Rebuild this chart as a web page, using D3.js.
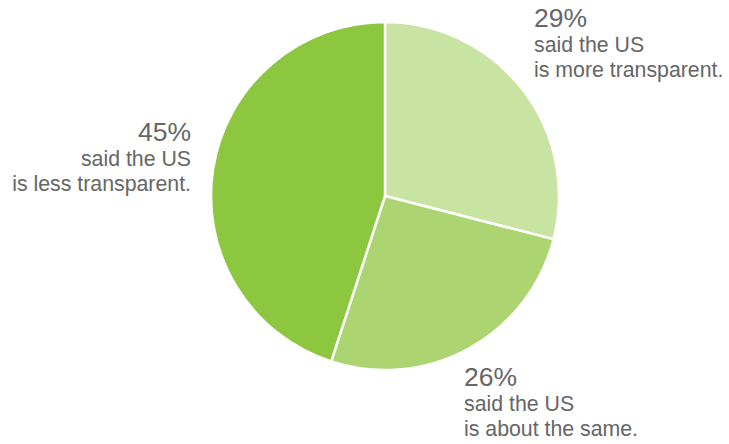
<!DOCTYPE html>
<html>
<head>
<meta charset="utf-8">
<script src="https://cdn.jsdelivr.net/npm/d3@7"></script>
<style>
  body { margin: 0; background: #fff; }
  text { font-family: "Liberation Sans", Arial, sans-serif; fill: #666; }
</style>
</head>
<body>
<div id="pie-chart"></div>
<script>
// Daten: Anteile in Prozent
const answers = ["is more transparent.", "is about the same.", "is less transparent."];
const shares = [29, 26, 45];
const colors = ["#c8e3a2", "#acd470", "#8dc63f"];

// Position der Beschriftungen (x, y der ersten Zeile, Ausrichtung)
const labelPos = [
    {x: 534, y: 27, anchor: "start"},
    {x: 464, y: 386, anchor: "start"},
    {x: 191, y: 141, anchor: "end"}
];

const width = 729;
const height = 444;
const cx = 385;
const cy = 196;
const radius = 174;

const svg = d3.select("#pie-chart")
    .append("svg")
    .attr("width", width)
    .attr("height", height)
    .attr("viewBox", `0, 0, ${width}, ${height}`);

const pieData = shares.map((v, i) => ({value: v, answer: answers[i], color: colors[i]}));

const pie = d3.pie()
    .value(d => d.value)
    .sort(null);

const arc = d3.arc()
    .innerRadius(0)
    .outerRadius(radius);

const innerChart = svg.append("g")
    .attr("transform", `translate(${cx}, ${cy})`);

innerChart.selectAll("path")
    .data(pie(pieData))
    .join("path")
    .attr("d", arc)
    .attr("fill", d => d.data.color)
    .attr("stroke", "#fff")
    .attr("stroke-width", 2.5)
    .attr("stroke-linejoin", "round");

// Beschriftungen
const labels = svg.selectAll("g.label")
    .data(pieData)
    .join("g")
    .attr("class", "label")
    .attr("transform", (d, i) => `translate(${labelPos[i].x}, ${labelPos[i].y})`)
    .attr("text-anchor", (d, i) => labelPos[i].anchor);

labels.append("text")
    .attr("font-size", 26.5)
    .text(d => `${d.value}%`);

labels.append("text")
    .attr("y", 25)
    .attr("font-size", 21.3)
    .text("said the US");

labels.append("text")
    .attr("y", 50)
    .attr("font-size", 21.3)
    .text(d => d.answer);
</script>
</body>
</html>
